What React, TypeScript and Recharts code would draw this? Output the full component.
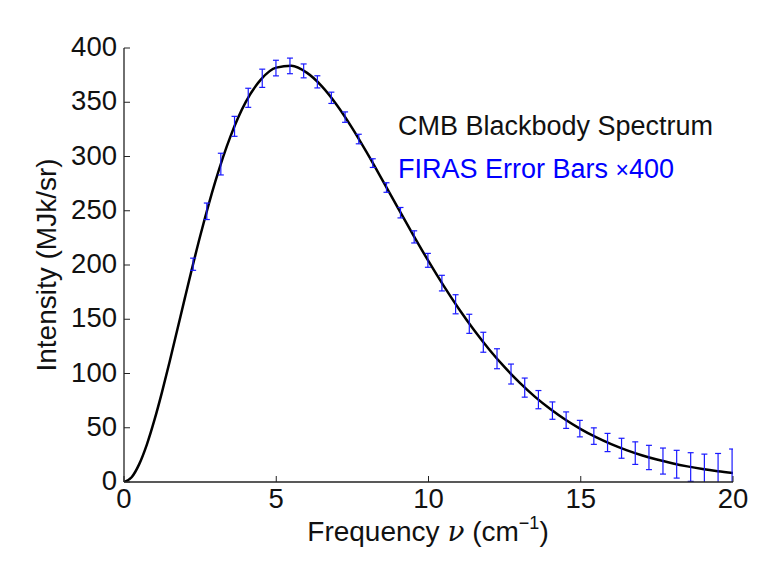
import { ComposedChart, Line, Scatter, ErrorBar, XAxis, YAxis, Label } from 'recharts';

const freqTicks = [0, 5, 10, 15, 20];
const intensityTicks = [0, 50, 100, 150, 200, 250, 300, 350, 400];

// blackbody curve
const curveFreq = [
  0, 0.25, 0.5, 0.75, 1, 1.25, 1.5, 1.75, 2, 2.5, 3, 3.5, 4, 4.5, 5, 5.5, 6, 6.5, 7, 7.5, 8, 8.5, 9, 9.5,
  10, 10.5, 11, 11.5, 12, 12.5, 13, 13.5, 14, 14.5, 15, 15.5, 16, 16.5, 17, 17.5, 18, 18.5, 19, 19.5, 20,
];
const curveIntensity = [
  0, 4.4, 16.5, 34.5, 57.2, 83.1, 111.1, 140.3, 169.7, 226.5, 277.1, 318.8, 350.3, 371.1, 381.9, 383.6,
  377.3, 364.7, 347.1, 326.0, 302.4, 277.6, 252.5, 227.6, 203.5, 180.7, 159.4, 139.8, 121.9, 105.8, 91.4,
  78.5, 67.3, 57.4, 48.8, 41.3, 34.9, 29.4, 24.7, 20.7, 17.3, 14.4, 12.0, 10.0, 8.3,
];

// FIRAS points and their error (already scaled x400)
const firasFreq = [
  2.27, 2.72, 3.18, 3.63, 4.08, 4.54, 4.99, 5.45, 5.9, 6.35, 6.81, 7.26, 7.71, 8.17, 8.62, 9.08, 9.53, 9.98,
  10.44, 10.89, 11.34, 11.8, 12.25, 12.71, 13.16, 13.61, 14.07, 14.52, 14.97, 15.43, 15.88, 16.34, 16.79,
  17.24, 17.7, 18.15, 18.61, 19.06, 19.51, 19.97,
];
const firasIntensity = [
  200.7, 249.5, 293.0, 327.8, 354.1, 372.1, 381.5, 383.5, 378.9, 368.8, 354.1, 336.3, 316.1, 293.9, 271.4,
  248.2, 225.9, 204.3, 183.3, 163.8, 145.8, 128.8, 113.6, 99.5, 87.0, 75.9, 65.8, 57.0, 49.2, 42.3, 36.4,
  31.1, 26.6, 22.6, 19.3, 16.4, 13.8, 11.7, 9.9, 8.4,
];
const firasError = [
  5.6, 7.6, 10.0, 9.2, 8.8, 8.4, 7.2, 7.2, 6.4, 5.6, 5.2, 4.8, 4.4, 4.0, 4.4, 4.8, 5.6, 6.4, 7.2, 8.8, 8.8,
  9.2, 9.2, 9.2, 8.8, 8.4, 8.0, 7.6, 7.6, 7.6, 8.4, 9.2, 10.4, 11.2, 12.0, 12.8, 13.2, 14.0, 16.4, 22.0,
];

const curveData = curveFreq.map((f, i) => ({ freq: f, intensity: curveIntensity[i] }));
const firasData = firasFreq.map((f, i) => ({ freq: f, intensity: firasIntensity[i], err: firasError[i] }));

const FONT = '"Liberation Sans", Arial, Helvetica, sans-serif';
const TICK_LEN = 6;
const TICK_FONT = 27.5;
const TITLE_FONT = 28;
const frameLine = { stroke: '#222', strokeWidth: 1.3 };

const BottomTick = ({ x, y, payload }: any) => (
  <g>
    <line x1={x} x2={x} y1={y} y2={y - TICK_LEN} stroke="#222" strokeWidth={1} />
    <text x={x} y={y + 26} textAnchor="middle" fontSize={TICK_FONT} fontFamily={FONT} fill="#111">
      {payload.value}
    </text>
  </g>
);

const TopTick = ({ x, y }: any) => (
  <line x1={x} x2={x} y1={y} y2={y + TICK_LEN} stroke="#222" strokeWidth={1} />
);

const LeftTick = ({ x, y, payload }: any) => (
  <g>
    <line x1={x} x2={x + TICK_LEN} y1={y} y2={y} stroke="#222" strokeWidth={1} />
    <text x={x - 7} y={y + 8} textAnchor="end" fontSize={TICK_FONT} fontFamily={FONT} fill="#111">
      {payload.value}
    </text>
  </g>
);

const RightTick = ({ x, y }: any) => (
  <line x1={x} x2={x - TICK_LEN} y1={y} y2={y} stroke="#222" strokeWidth={1} />
);

const NoDot = () => <g />;

export default function App() {
  return (
    <div style={{ position: 'absolute', left: 0, top: 0, width: 775, height: 574, background: '#fff' }}>
      <style>{'.recharts-errorBars { clip-path: url(#plotClip); }'}</style>
      <svg width={0} height={0} style={{ position: 'absolute' }}>
        <defs>
          <clipPath id="plotClip" clipPathUnits="userSpaceOnUse">
            <rect x={124} y={48} width={609} height={434} />
          </clipPath>
        </defs>
      </svg>
      <ComposedChart width={775} height={574} margin={{ top: 48, right: 42, left: 0, bottom: 0 }}>
        <XAxis
          dataKey="freq"
          type="number"
          domain={[0, 20]}
          ticks={freqTicks}
          allowDataOverflow
          height={92}
          tickSize={0}
          tickMargin={0}
          tickLine={false}
          axisLine={frameLine}
          tick={BottomTick}
        >
          <Label
            content={() => (
              <text x={428} y={541} textAnchor="middle" fontSize={TITLE_FONT} fontFamily={FONT} fill="#111">
                Frequency{' '}
                <tspan fontFamily='"DejaVu Serif", serif' fontStyle="italic">ν</tspan> (cm
                <tspan fontSize={18} dy={-12}>−1</tspan>
                <tspan dy={12}>)</tspan>
              </text>
            )}
          />
        </XAxis>
        <XAxis
          xAxisId="top"
          orientation="top"
          type="number"
          domain={[0, 20]}
          ticks={freqTicks}
          height={0}
          tickSize={0}
          tickMargin={0}
          tickLine={false}
          axisLine={frameLine}
          tick={TopTick}
        />
        <YAxis
          type="number"
          domain={[0, 400]}
          ticks={intensityTicks}
          allowDataOverflow
          width={124}
          tickSize={0}
          tickMargin={0}
          tickLine={false}
          axisLine={frameLine}
          tick={LeftTick}
        >
          <Label
            content={() => (
              <text
                x={56}
                y={265}
                transform="rotate(-90 56 265)"
                textAnchor="middle"
                fontSize={TITLE_FONT}
                fontFamily={FONT}
                fill="#111"
              >
                Intensity (MJk/sr)
              </text>
            )}
          />
        </YAxis>
        <YAxis
          yAxisId="right"
          orientation="right"
          type="number"
          domain={[0, 400]}
          ticks={intensityTicks}
          width={0}
          tickSize={0}
          tickMargin={0}
          tickLine={false}
          axisLine={frameLine}
          tick={RightTick}
        />
        <Line
          data={curveData}
          dataKey="intensity"
          type="monotone"
          stroke="#000"
          strokeWidth={2.5}
          dot={false}
          isAnimationActive={false}
        />
        <Scatter data={firasData} dataKey="intensity" shape={NoDot} isAnimationActive={false}>
          <ErrorBar dataKey="err" direction="y" width={3} stroke="#1a1aff" strokeWidth={1.2} isAnimationActive={false} />
        </Scatter>
      </ComposedChart>
      <svg
        width={775}
        height={574}
        style={{ position: 'absolute', left: 0, top: 0, pointerEvents: 'none' }}
      >
        <text x={398} y={135} fontSize={27} fontFamily={FONT} fill="#111">
          CMB Blackbody Spectrum
        </text>
        <text x={398} y={178} fontSize={27} fontFamily={FONT} fill="#0000ff">
          FIRAS Error Bars <tspan fontSize={23}>×</tspan>400
        </text>
      </svg>
    </div>
  );
}
